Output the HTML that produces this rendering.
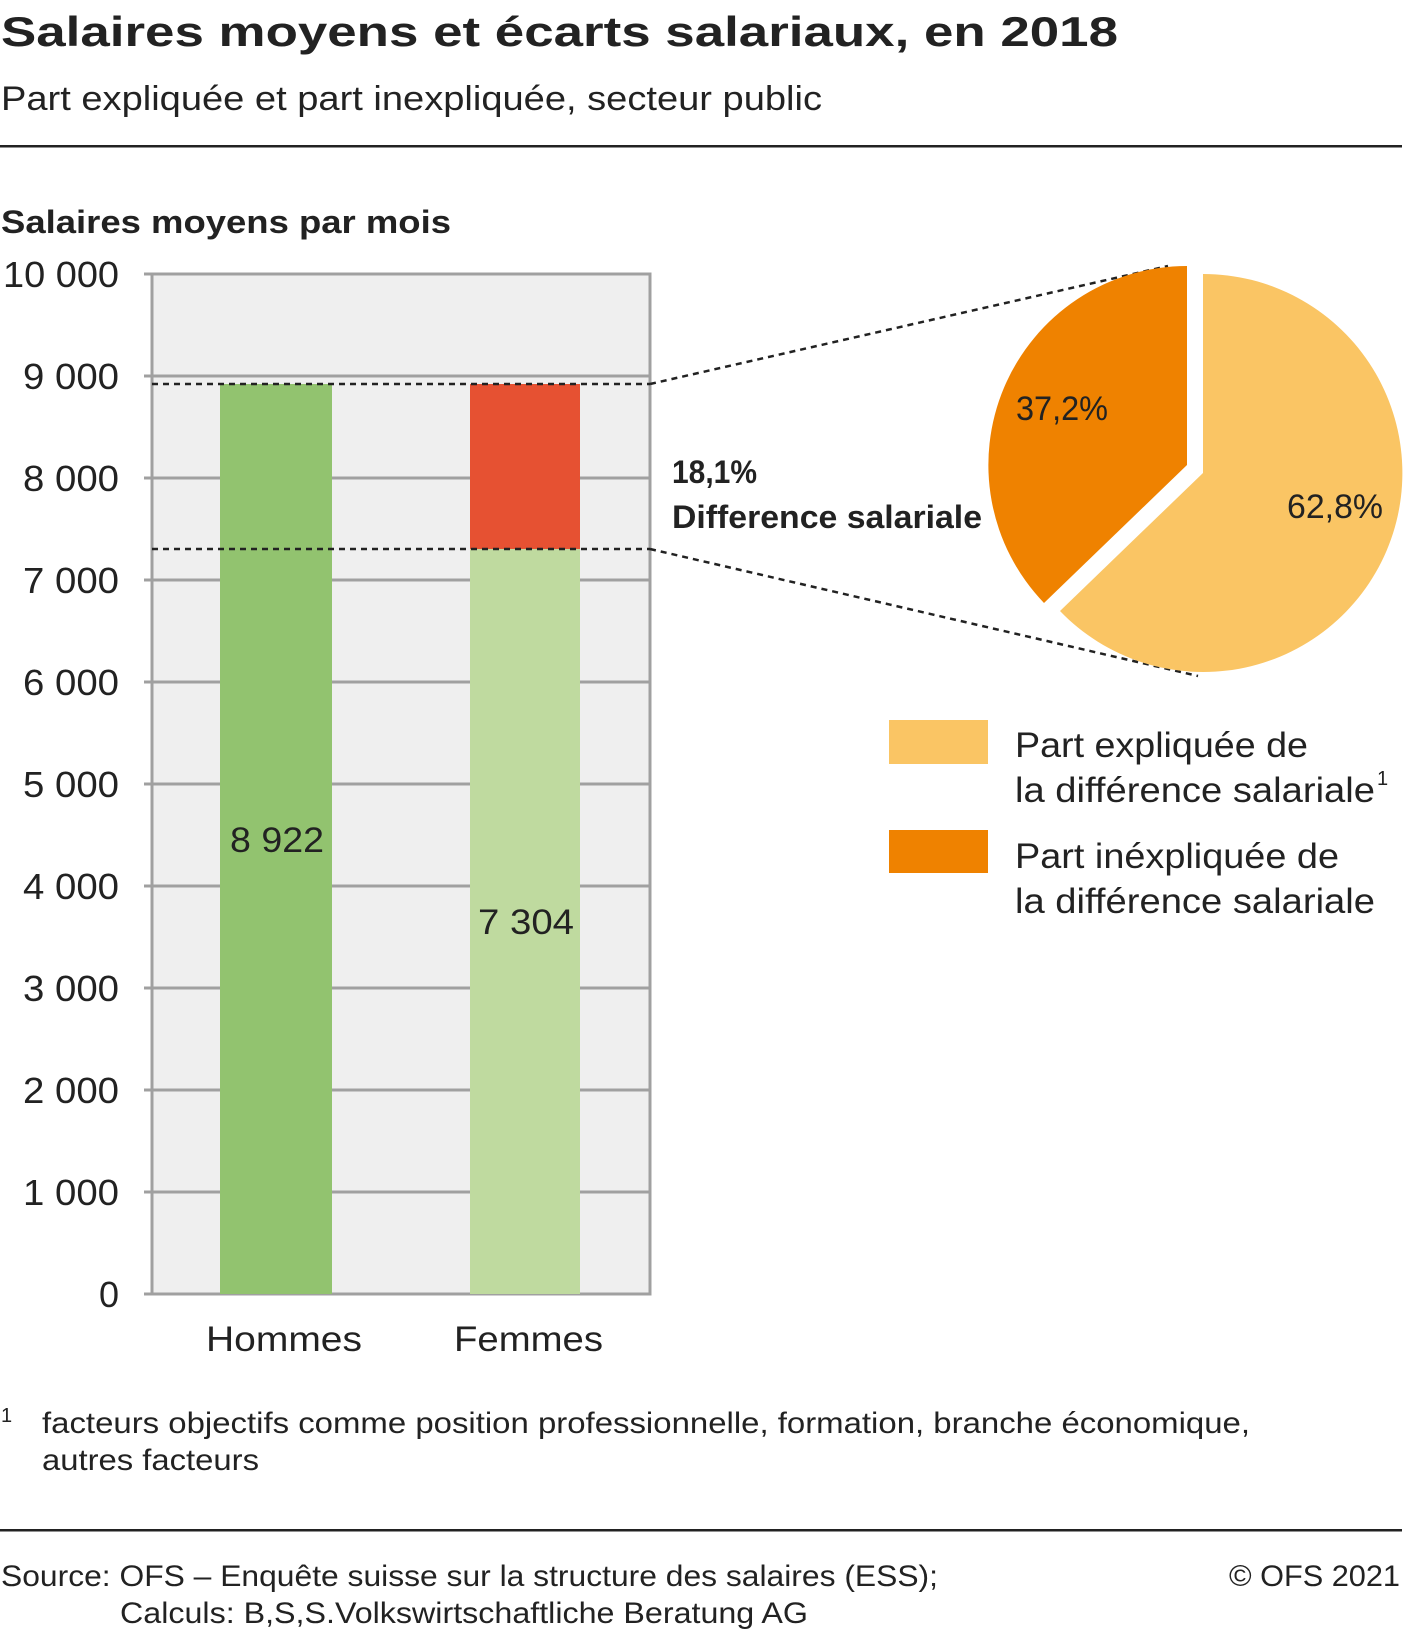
<!DOCTYPE html>
<html><head><meta charset="utf-8"><style>
html,body{margin:0;padding:0;background:#fff}
svg{display:block}
text{font-family:"Liberation Sans",sans-serif;fill:#222}
</style></head><body>
<svg width="1407" height="1636" viewBox="0 0 1407 1636" xmlns="http://www.w3.org/2000/svg">
<text x="1" y="46" font-size="42" font-weight="bold" textLength="1117" lengthAdjust="spacingAndGlyphs">Salaires moyens et écarts salariaux, en 2018</text>
<text x="1" y="110" font-size="34" textLength="821" lengthAdjust="spacingAndGlyphs">Part expliquée et part inexpliquée, secteur public</text>
<rect x="0" y="145" width="1402" height="2.5" fill="#222"/>
<text x="1" y="233" font-size="32" font-weight="bold" textLength="450" lengthAdjust="spacingAndGlyphs">Salaires moyens par mois</text>

<rect x="152" y="274" width="498" height="1020" fill="#efefef"/>
<g stroke="#a0a0a0" stroke-width="3">
<line x1="144" y1="376" x2="650" y2="376"/>
<line x1="144" y1="478" x2="650" y2="478"/>
<line x1="144" y1="580" x2="650" y2="580"/>
<line x1="144" y1="682" x2="650" y2="682"/>
<line x1="144" y1="784" x2="650" y2="784"/>
<line x1="144" y1="886" x2="650" y2="886"/>
<line x1="144" y1="988" x2="650" y2="988"/>
<line x1="144" y1="1090" x2="650" y2="1090"/>
<line x1="144" y1="1192" x2="650" y2="1192"/>
<line x1="144" y1="274" x2="152" y2="274"/>
<line x1="144" y1="1294" x2="152" y2="1294"/>
</g>
<rect x="152" y="274" width="498" height="1020" fill="none" stroke="#a0a0a0" stroke-width="3"/>
<rect x="220" y="384" width="112" height="910" fill="#92c36f"/>
<rect x="470" y="384" width="110" height="165" fill="#e65132"/>
<rect x="470" y="549" width="110" height="745" fill="#bfda9f"/>
<g stroke="#222" stroke-width="2.5" stroke-dasharray="6,5" fill="none">
<line x1="152" y1="384" x2="650" y2="384"/>
<line x1="152" y1="549" x2="650" y2="549"/>
<line x1="650" y1="384" x2="1168" y2="266"/>
<line x1="650" y1="549" x2="1198" y2="676"/>
</g>
<g font-size="36" text-anchor="end">
<text x="119" y="287" textLength="116" lengthAdjust="spacingAndGlyphs">10 000</text>
<text x="119" y="389" textLength="96" lengthAdjust="spacingAndGlyphs">9 000</text>
<text x="119" y="491" textLength="96" lengthAdjust="spacingAndGlyphs">8 000</text>
<text x="119" y="593" textLength="96" lengthAdjust="spacingAndGlyphs">7 000</text>
<text x="119" y="695" textLength="96" lengthAdjust="spacingAndGlyphs">6 000</text>
<text x="119" y="797" textLength="96" lengthAdjust="spacingAndGlyphs">5 000</text>
<text x="119" y="899" textLength="96" lengthAdjust="spacingAndGlyphs">4 000</text>
<text x="119" y="1001" textLength="96" lengthAdjust="spacingAndGlyphs">3 000</text>
<text x="119" y="1103" textLength="96" lengthAdjust="spacingAndGlyphs">2 000</text>
<text x="119" y="1205" textLength="96" lengthAdjust="spacingAndGlyphs">1 000</text>
<text x="119" y="1307">0</text>
</g>
<g font-size="35">
<text x="230" y="852" textLength="94" lengthAdjust="spacingAndGlyphs">8 922</text>
<text x="478" y="934" textLength="96" lengthAdjust="spacingAndGlyphs">7 304</text>
<text x="206" y="1351" textLength="156" lengthAdjust="spacingAndGlyphs">Hommes</text>
<text x="454" y="1351" textLength="149" lengthAdjust="spacingAndGlyphs">Femmes</text>
</g>
<text x="672" y="483" font-size="32" font-weight="bold" textLength="85" lengthAdjust="spacingAndGlyphs">18,1%</text>
<text x="672" y="528" font-size="32" font-weight="bold" textLength="310" lengthAdjust="spacingAndGlyphs">Difference salariale</text>

<path d="M1203,473 L1203,274 A199,199 0 1 1 1060,611 Z" fill="#fac564"/>
<path d="M1187,465 L1187,266 A199,199 0 0 0 1044,603 Z" fill="#ef8200"/>
<text x="1016" y="420" font-size="34" textLength="92" lengthAdjust="spacingAndGlyphs">37,2%</text>
<text x="1287" y="518" font-size="34" textLength="96" lengthAdjust="spacingAndGlyphs">62,8%</text>

<rect x="889" y="720" width="99" height="44" fill="#fac564"/>
<rect x="889" y="830" width="99" height="43" fill="#ef8200"/>
<g font-size="35">
<text x="1015" y="757" textLength="293" lengthAdjust="spacingAndGlyphs">Part expliquée de</text>
<text x="1015" y="802" textLength="360" lengthAdjust="spacingAndGlyphs">la différence salariale</text>
<text x="1377" y="785" font-size="20">1</text>
<text x="1015" y="868" textLength="324" lengthAdjust="spacingAndGlyphs">Part inéxpliquée de</text>
<text x="1015" y="913" textLength="360" lengthAdjust="spacingAndGlyphs">la différence salariale</text>
</g>

<text x="1" y="1422" font-size="20">1</text>
<text x="42" y="1433" font-size="30" textLength="1208" lengthAdjust="spacingAndGlyphs">facteurs objectifs comme position professionnelle, formation, branche économique,</text>
<text x="42" y="1470" font-size="30" textLength="217" lengthAdjust="spacingAndGlyphs">autres facteurs</text>
<rect x="0" y="1529" width="1402" height="2.5" fill="#222"/>
<text x="1" y="1586" font-size="30" textLength="937" lengthAdjust="spacingAndGlyphs">Source: OFS – Enquête suisse sur la structure des salaires (ESS);</text>
<text x="120" y="1623" font-size="30" textLength="688" lengthAdjust="spacingAndGlyphs">Calculs: B,S,S.Volkswirtschaftliche Beratung AG</text>
<text x="1229" y="1586" font-size="30" textLength="171" lengthAdjust="spacingAndGlyphs">© OFS 2021</text>
</svg>
</body></html>
